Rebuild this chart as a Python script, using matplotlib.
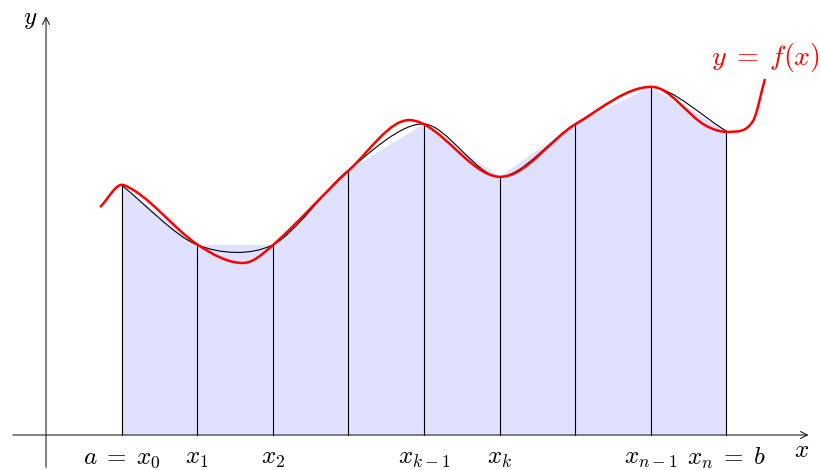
import numpy as np
import matplotlib
matplotlib.use("Agg")
import matplotlib.pyplot as plt
from matplotlib.path import Path
from matplotlib.patches import PathPatch, FancyArrowPatch

plt.rcParams['mathtext.fontset'] = 'cm'

# partition nodes (cm) and trapezoid heights
xs = [2, 4, 6, 8, 10, 12, 14, 16, 18]
ys = [6.61, 5.03, 5.03, 7.01, 8.23, 6.83, 8.23, 9.21, 8.04]
labels = [r'$a\;=\;x_0$', '$x_1$', '$x_2$', '', '$x_{k-1}$', '$x_k$', '', '$x_{n-1}$', r'$x_n\;=\;b$']

# knots of the red curve f(x)
fx = [1.43, 2.06, 4.02, 5.21, 6.01, 8.02, 9.63, 12.01, 14.02, 16.03, 17.43, 18.10, 18.70, 19.02]
fy = [6.03, 6.61, 5.03, 4.55, 5.03, 7.01, 8.33, 6.83, 8.23, 9.21, 8.20, 8.02, 8.30, 9.42]


def node_path(px, py, t=0.5):
    # catmull-rom through the nodes, as cubic bezier segments
    p = np.column_stack([px, py])
    p = np.vstack([p[0] - (p[1] - p[0]), p, p[-1] + (p[-1] - p[-2])])
    verts = [p[1]]
    codes = [Path.MOVETO]
    for i in range(1, len(p) - 2):
        c1 = p[i] + (p[i + 1] - p[i - 1]) * t / 3
        c2 = p[i + 1] - (p[i + 2] - p[i]) * t / 3
        verts += [c1, c2, p[i + 1]]
        codes += [Path.CURVE4] * 3
    return Path(verts, codes)


def func_path(px, py):
    # hermite curve y(x) through the knots, slopes from the two neighbours
    px = np.asarray(px)
    py = np.asarray(py)
    m = np.empty_like(py)
    m[1:-1] = (py[2:] - py[:-2]) / (px[2:] - px[:-2])
    m[0] = (py[1] - py[0]) / (px[1] - px[0])
    m[-1] = (py[-1] - py[-2]) / (px[-1] - px[-2])
    verts = [(px[0], py[0])]
    codes = [Path.MOVETO]
    for i in range(len(px) - 1):
        h = px[i + 1] - px[i]
        verts += [(px[i] + h / 3, py[i] + m[i] * h / 3),
                  (px[i + 1] - h / 3, py[i + 1] - m[i + 1] * h / 3),
                  (px[i + 1], py[i + 1])]
        codes += [Path.CURVE4] * 3
    return Path(verts, codes)


fig = plt.figure(figsize=(8.21, 4.70), dpi=100)
ax = fig.add_axes([0, 0, 1, 1])
s = 37.8
ax.set_xlim(-46 / s, 775 / s)
ax.set_ylim(-35 / s, 435 / s)
ax.axis('off')

# trapezoids
ax.fill([xs[0]] + xs + [xs[-1]], [0] + ys + [0], color='#e0e0ff', lw=0, zorder=1)
for x, y in zip(xs, ys):
    ax.plot([x, x], [0, y], color='black', lw=0.8, zorder=2)

ax.add_patch(PathPatch(node_path(xs, ys, 0.45), fill=False, color='black', lw=0.8, zorder=3))
ax.add_patch(PathPatch(func_path(fx, fy), fill=False, color='red', lw=1.8, zorder=4))

# axes
ax.add_patch(FancyArrowPatch((-0.95, 0), (20.25, 0), arrowstyle='->,head_length=5,head_width=2.5',
                             lw=0.8, color='#222222', mutation_scale=1, zorder=5))
ax.add_patch(FancyArrowPatch((0, -0.93), (0, 11.15), arrowstyle='->,head_length=5,head_width=2.5',
                             lw=0.8, color='#222222', mutation_scale=1, zorder=5))
ax.text(20.0, -0.4, '$x$', fontsize=18, ha='center', va='center')
ax.text(-0.42, 11.0, '$y$', fontsize=18, ha='center', va='center')

for x, lab in zip(xs, labels):
    ax.text(x, -0.62, lab, fontsize=18, ha='center', va='center')

ax.text(19.02, 10.0, r'$y\;=\;f(x)$', fontsize=20, color='red', ha='center', va='center')

fig.savefig('out.png', dpi=100)
